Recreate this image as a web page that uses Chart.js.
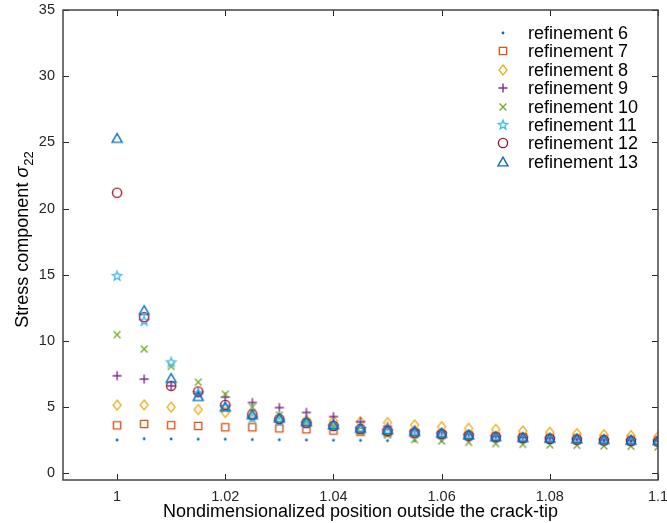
<html>
<head>
<script src="https://cdn.jsdelivr.net/npm/chart.js@4/dist/chart.umd.min.js"></script>
<style>
  body { margin: 0; background: #fff; }
</style>
</head>
<body>
<canvas id="myChart" width="667" height="523"></canvas>
<script>
// positions along the crack line
const xValues = [1.000, 1.005, 1.010, 1.015, 1.020, 1.025, 1.030, 1.035, 1.040, 1.045, 1.050,
                 1.055, 1.060, 1.065, 1.070, 1.075, 1.080, 1.085, 1.090, 1.095, 1.100];

const ref6  = [2.52, 2.62, 2.60, 2.58, 2.58, 2.55, 2.54, 2.52, 2.50, 2.49, 2.47, 2.46, 2.45, 2.44, 2.43, 2.42, 2.41, 2.40, 2.39, 2.38, 2.37];
const ref7  = [3.63, 3.73, 3.64, 3.58, 3.48, 3.48, 3.40, 3.33, 3.23, 3.15, 3.08, 3.00, 2.93, 2.87, 2.80, 2.75, 2.70, 2.65, 2.60, 2.55, 2.50];
const ref8  = [5.15, 5.17, 5.00, 4.82, 4.60, 4.30, 4.10, 4.00, 3.95, 3.90, 3.83, 3.66, 3.53, 3.40, 3.32, 3.20, 3.10, 3.00, 2.92, 2.85, 2.78];
const ref9  = [7.37, 7.12, 6.61, 6.05, 5.76, 5.35, 4.97, 4.60, 4.29, 3.90, 3.55, 3.30, 3.10, 2.95, 2.80, 2.72, 2.65, 2.58, 2.52, 2.48, 2.45];
const ref10 = [10.48, 9.39, 8.08, 6.89, 5.98, 5.00, 4.40, 3.90, 3.50, 3.10, 2.90, 2.55, 2.45, 2.35, 2.25, 2.20, 2.15, 2.12, 2.08, 2.05, 2.00];
const ref11 = [14.9, 11.5, 8.38, 6.05, 5.00, 4.15, 3.90, 3.75, 3.55, 3.35, 3.20, 3.08, 2.97, 2.85, 2.75, 2.68, 2.62, 2.56, 2.50, 2.46, 2.42];
const ref12 = [21.2, 11.8, 6.61, 6.18, 5.17, 4.45, 4.10, 3.80, 3.58, 3.35, 3.20, 3.08, 2.97, 2.85, 2.73, 2.66, 2.60, 2.54, 2.48, 2.44, 2.40];
const ref13 = [25.3, 12.3, 7.17, 5.80, 5.00, 4.42, 4.17, 3.90, 3.66, 3.40, 3.28, 3.15, 3.03, 2.90, 2.77, 2.70, 2.65, 2.60, 2.55, 2.50, 2.47];

const seriesNames = ['refinement 6', 'refinement 7', 'refinement 8', 'refinement 9',
                     'refinement 10', 'refinement 11', 'refinement 12', 'refinement 13'];
const seriesValues = [ref6, ref7, ref8, ref9, ref10, ref11, ref12, ref13];

const xTickValues = [1, 1.02, 1.04, 1.06, 1.08, 1.1];
const xTickLabels = ['1', '1.02', '1.04', '1.06', '1.08', '1.1'];
const yTickValues = [0, 5, 10, 15, 20, 25, 30, 35];
const yTickLabels = ['0', '5', '10', '15', '20', '25', '30', '35'];

const xTitle = 'Nondimensionalized position outside the crack-tip';
const yTitle = 'Stress component ';

const colors = ['#0072BD', '#D95319', '#EDB120', '#7E2F8E', '#77AC30', '#4DBEEE', '#A2142F', '#0072BD'];
const FONT = '"Liberation Sans", Arial, Helvetica, sans-serif';
const AXIS = '#262626';

// matlab style markers drawn on small canvases
function marker(kind, color) {
    var c = document.createElement('canvas');
    c.width = 14; c.height = 14;
    var g = c.getContext('2d');
    g.strokeStyle = color; g.fillStyle = color; g.lineWidth = 1.4;
    g.translate(7, 7);
    g.beginPath();
    if (kind == 'dot') {
        g.arc(0, 0, 1.4, 0, Math.PI * 2); g.fill(); return c;
    } else if (kind == 'square') {
        g.rect(-3.6, -3.6, 7.2, 7.2);
    } else if (kind == 'diamond') {
        g.moveTo(0, -5); g.lineTo(4, 0); g.lineTo(0, 5); g.lineTo(-4, 0); g.closePath();
    } else if (kind == 'plus') {
        g.moveTo(-4.5, 0); g.lineTo(4.5, 0); g.moveTo(0, -4.5); g.lineTo(0, 4.5);
    } else if (kind == 'cross') {
        g.moveTo(-3.4, -3.4); g.lineTo(3.4, 3.4); g.moveTo(3.4, -3.4); g.lineTo(-3.4, 3.4);
    } else if (kind == 'star') {
        for (var k = 0; k < 10; k++) {
            var r = k % 2 ? 2.1 : 4.8;
            var a = -Math.PI / 2 + k * Math.PI / 5;
            if (k == 0) g.moveTo(r * Math.cos(a), r * Math.sin(a));
            else g.lineTo(r * Math.cos(a), r * Math.sin(a));
        }
        g.closePath();
    } else if (kind == 'circle') {
        g.arc(0, 0, 4.6, 0, Math.PI * 2);
    } else if (kind == 'triangle') {
        g.moveTo(0, -4.8); g.lineTo(5, 3.9); g.lineTo(-5, 3.9); g.closePath();
    }
    g.stroke();
    return c;
}
const kinds = ['dot', 'square', 'diamond', 'plus', 'cross', 'star', 'circle', 'triangle'];
const markers = kinds.map((k, i) => marker(k, colors[i]));

const datasets = seriesValues.map(function(vals, i) {
    return {
        label: seriesNames[i],
        data: vals.map((v, j) => ({x: xValues[j], y: v})),
        pointStyle: markers[i],
        pointRadius: 5,
        showLine: false,
        order: 7 - i
    };
});

// axes box with inward ticks, legend and y title
const decor = {
    id: 'decor',
    afterDatasetsDraw(chart) {
        const ctx = chart.ctx, a = chart.chartArea;
        const xs = chart.scales.x, ys = chart.scales.y;
        ctx.save();
        ctx.strokeStyle = AXIS;
        ctx.lineWidth = 1;
        ctx.beginPath();
        xTickValues.forEach(function(v) {
            var p = Math.round(xs.getPixelForValue(v)) + 0.5;
            ctx.moveTo(p, a.bottom); ctx.lineTo(p, a.bottom - 6);
            ctx.moveTo(p, a.top); ctx.lineTo(p, a.top + 6);
        });
        yTickValues.forEach(function(v) {
            var p = Math.round(ys.getPixelForValue(v)) + 0.5;
            ctx.moveTo(a.left, p); ctx.lineTo(a.left + 6, p);
            ctx.moveTo(a.right, p); ctx.lineTo(a.right - 6, p);
        });
        ctx.stroke();
        ctx.lineWidth = 1.5;
        ctx.strokeStyle = '#444';
        ctx.strokeRect(a.left, a.top, a.right - a.left, a.bottom - a.top);

        // legend
        ctx.font = '18px ' + FONT;
        ctx.fillStyle = '#000';
        ctx.textBaseline = 'middle';
        ctx.textAlign = 'left';
        seriesNames.forEach(function(n, i) {
            var y = 33 + i * 18.4;
            ctx.drawImage(markers[i], 503 - 7, Math.round(y) - 7);
            ctx.fillText(n, 528, y + 1);
        });

        // y title with subscript
        ctx.translate(22, 240);
        ctx.rotate(-Math.PI / 2);
        var w1 = ctx.measureText(yTitle).width;
        ctx.font = 'italic 18px ' + FONT;
        var w2 = ctx.measureText('σ').width;
        ctx.font = '13px ' + FONT;
        var w3 = ctx.measureText('22').width;
        var x0 = -(w1 + w2 + w3) / 2;
        ctx.textBaseline = 'alphabetic';
        ctx.fillStyle = '#000';
        ctx.font = '18px ' + FONT;
        ctx.fillText(yTitle, x0, 6);
        ctx.font = 'italic 18px ' + FONT;
        ctx.fillText('σ', x0 + w1, 6);
        ctx.font = '13px ' + FONT;
        ctx.fillText('22', x0 + w1 + w2 + 1, 11);
        ctx.restore();
    }
};

new Chart(document.getElementById('myChart'), {
    type: 'scatter',
    data: { datasets: datasets },
    options: {
        responsive: false,
        animation: false,
        layout: { padding: { top: 10, right: 9, left: 0, bottom: 0 } },
        plugins: { legend: { display: false }, tooltip: { enabled: false } },
        scales: {
            x: {
                type: 'linear', min: 0.99, max: 1.1,
                afterBuildTicks: (s) => { s.ticks = xTickValues.map(v => ({value: v})); },
                afterFit: (s) => { s.height = 43; s.paddingLeft = 0; s.paddingRight = 0; },
                ticks: {
                    callback: (v) => xTickLabels[xTickValues.indexOf(v)],
                    font: { family: FONT, size: 14.5 }, color: AXIS, padding: 8, maxRotation: 0, autoSkip: false
                },
                grid: { display: false, drawTicks: false, tickLength: 0 },
                border: { display: false },
                title: { display: true, text: xTitle, font: { family: FONT, size: 18 }, color: '#000', padding: { top: 0, bottom: 0 } }
            },
            y: {
                type: 'linear', min: -0.5, max: 35,
                afterBuildTicks: (s) => { s.ticks = yTickValues.map(v => ({value: v})); },
                afterFit: (s) => { s.width = 63; s.paddingTop = 0; s.paddingBottom = 0; },
                ticks: {
                    callback: (v) => yTickLabels[yTickValues.indexOf(v)],
                    font: { family: FONT, size: 14.5 }, color: AXIS, padding: 8, autoSkip: false
                },
                grid: { display: false, drawTicks: false, tickLength: 0 },
                border: { display: false }
            }
        }
    },
    plugins: [decor]
});
</script>
</body>
</html>
